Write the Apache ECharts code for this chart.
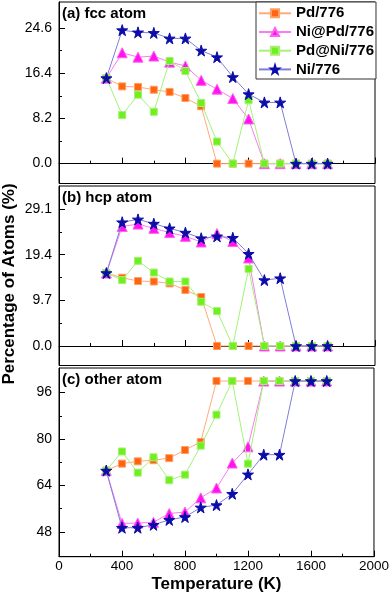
<!DOCTYPE html>
<html><head><meta charset="utf-8">
<script src="https://cdn.jsdelivr.net/npm/echarts@6/dist/echarts.min.js"></script>
<style>html,body{margin:0;padding:0;background:#fff}#c{width:392px;height:595px}</style>
</head><body><div id="c"></div>
<script>
// Temperatures (K)
const temps = [300,400,500,600,700,800,900,1000,1100,1200,1300,1400,1500,1600,1700];
const seriesNames = ['Pd/776','Ni@Pd/776','Pd@Ni/776','Ni/776'];
const panelTitles = ['(a) fcc atom','(b) hcp atom','(c) other atom'];

// (a) fcc atom (%)
const fccPd   = [15.5,14.0,13.9,13.4,13.0,11.9,10.4,0,0,0,0,0,0,0,0];
const fccNiPd = [15.5,20.1,19.3,19.5,18.4,17.7,15.1,13.5,11.8,8.1,0,0,0,0,0];
const fccPdNi = [15.5,8.8,12.5,9.4,18.6,16.8,11.0,4.0,0,11.5,0,0,0,0,0];
const fccNi   = [15.5,24.2,23.8,23.7,22.7,22.7,20.5,19.3,15.7,12.6,11.1,11.1,0,0,0];

// (b) hcp atom (%)
const hcpPd   = [15.5,14.5,13.8,13.7,13.3,11.9,10.4,0,0,0,0,0,0,0,0];
const hcpNiPd = [15.5,25.4,25.9,25.0,24.1,23.3,22.1,23.9,22.2,18.7,0,0,0,0,0];
const hcpPdNi = [15.5,14.0,18.1,15.6,13.7,13.7,9.4,7.4,0,16.4,0,0,0,0,0];
const hcpNi   = [15.5,26.3,26.9,26.0,25.0,24.1,22.9,23.3,23.0,19.6,14.0,14.4,0,0,0];

// (c) other atom (%)
const othPd   = [69.1,71.5,72.3,72.7,73.4,76.2,79.0,100,100,100,100,100,100,100,100];
const othNiPd = [69.1,50.9,51.0,51.3,54.3,54.8,59.7,63.1,71.7,77.3,100,100,100,100,100];
const othPdNi = [69.1,75.7,68.4,73.7,65.8,67.7,77.7,88.4,100,71.5,100,100,100,100,100];
const othNi   = [69.1,49.4,49.4,50.4,52.1,53.1,56.4,57.2,61.1,67.8,74.6,74.6,100,100,100];

// Tick labels
const xTicks = [0,400,800,1200,1600,2000];
const yTicksA = [0,8.2,16.4,24.6];
const yTicksB = [0,9.7,19.4,29.1];
const yTicksC = [48,64,80,96];
const yMinorA = [4.1,12.3,20.5];
const yMinorB = [4.85,14.55,24.25];
const yMinorC = [56,72,88];

const panels = [
  {data:[fccPd,fccNiPd,fccPdNi,fccNi], ticks:yTicksA, minor:yMinorA, min:-3.6, max:29.3, top:2, height:181.5, dec:1},
  {data:[hcpPd,hcpNiPd,hcpPdNi,hcpNi], ticks:yTicksB, minor:yMinorB, min:-4.15, max:34.0, top:186, height:179.5, dec:1},
  {data:[othPd,othNiPd,othPdNi,othNi], ticks:yTicksC, minor:yMinorC, min:39.4, max:104.5, top:368, height:188.7, dec:0}
];

const STAR = 'path://M50,0 L61,35 L98,35 L68,57 L79,91 L50,70 L21,91 L32,57 L2,35 L39,35 Z';
const styles = [
  {symbol:'rect', size:7, fill:'#FF6412', border:'#FFA060', line:'#FFAA78'},
  {symbol:'triangle', size:10, fill:'#FF14F0', border:'#FF60F0', line:'#FF78F4'},
  {symbol:'rect', size:7, fill:'#6CF01E', border:'#A8F070', line:'#A4F27A'},
  {symbol:STAR, size:11, fill:'#0C0CA8', border:'#0C0CA8', line:'#7E7ED8'}
];

const FONT = 'Liberation Sans, Arial, sans-serif';
const grids = [], xAxes = [], yAxes = [], series = [], graphics = [];
panels.forEach((p, i) => {
  grids.push({left:59, right:17, top:p.top, height:p.height, show:true, borderColor:'#000', borderWidth:1, backgroundColor:'transparent'});
  xAxes.push({
    type:'value', gridIndex:i, min:0, max:2000, interval:400,
    axisLine:{show:true, lineStyle:{color:'#000', width:1}},
    axisTick:{show:true, inside:true, length:6, lineStyle:{color:'#000'}},
    minorTick:{show:true, splitNumber:2, length:3, lineStyle:{color:'#000'}},
    splitLine:{show:false},
    axisLabel:{show:i===2, customValues:xTicks, color:'#000', fontSize:13.5, fontFamily:FONT, margin:3,
      formatter: v => String(Math.round(v))},
    name: i===2 ? 'Temperature (K)' : '', nameLocation:'middle', nameGap:19,
    nameTextStyle:{color:'#000', fontSize:17, fontWeight:'bold', fontFamily:FONT}
  });
  yAxes.push({
    type:'value', gridIndex:i, min:p.min, max:p.max,
    axisLine:{show:true, lineStyle:{color:'#000', width:1}},
    axisTick:{show:true, inside:true, length:6, customValues:p.ticks, lineStyle:{color:'#000'}},
    splitLine:{show:false},
    axisLabel:{show:true, customValues:p.ticks, color:'#000', fontSize:14, fontFamily:FONT, margin:7,
      formatter: v => Number(v).toFixed(p.dec)}
  });
  yAxes.push({
    type:'value', gridIndex:i, min:p.min, max:p.max, position:'left',
    axisLine:{show:false},
    axisTick:{show:true, inside:true, length:3, customValues:p.minor, lineStyle:{color:'#000'}},
    splitLine:{show:false},
    axisLabel:{show:false, customValues:p.minor}
  });
  p.data.forEach((arr, k) => {
    const s = styles[k];
    series.push({
      type:'line', name:seriesNames[k], xAxisIndex:i, yAxisIndex:2*i,
      data: temps.map((t, j) => [t, arr[j]]),
      symbol:s.symbol, symbolSize:s.size, showSymbol:true,
      lineStyle:{color:s.line, width:1},
      itemStyle:{color:s.fill, borderColor:s.border, borderWidth:1},
      z: 2 + k, animation:false
    });
  });
  graphics.push({type:'text', left:62, top:p.top + 4,
    style:{text:panelTitles[i], font:'bold 15px ' + FONT, fill:'#000'}});
});

graphics.push({type:'text', x:9, y:284, rotation:Math.PI/2,
  style:{text:'Percentage of Atoms (%)', font:'bold 17px ' + FONT, fill:'#000', align:'center', verticalAlign:'middle'}});

const chart = echarts.init(document.getElementById('c'), null, {renderer:'canvas'});
chart.setOption({
  animation:false,
  grid:grids, xAxis:xAxes, yAxis:yAxes, series:series,
  legend:{
    data:seriesNames, orient:'vertical', left:256, top:2,
    padding:[3.3,2,1.6,2], itemGap:2.7, itemWidth:32, itemHeight:10,
    borderColor:'#333', borderWidth:1, backgroundColor:'#fff',
    textStyle:{color:'#000', fontSize:15, fontWeight:'bold', fontFamily:FONT, lineHeight:16}
  },
  graphic:graphics
});
</script></body></html>
